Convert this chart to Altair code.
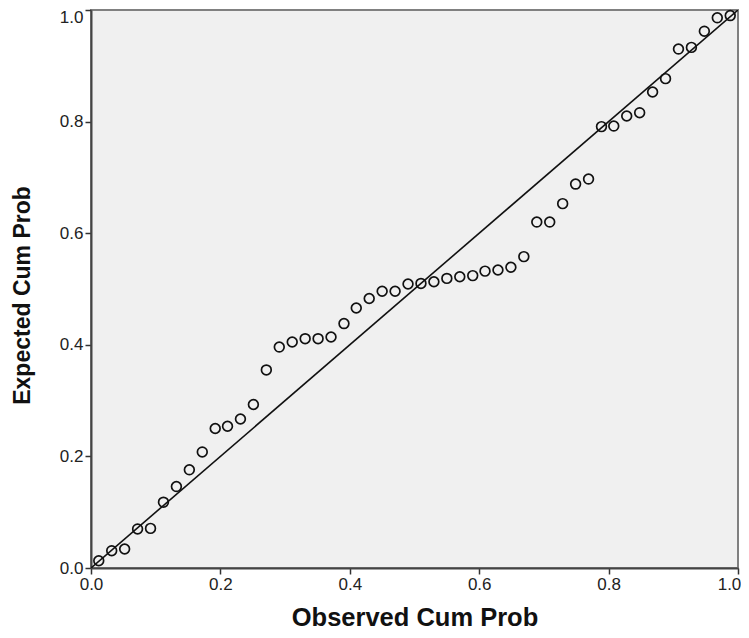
import altair as alt
import pandas as pd

# Observed cumulative probability (x) and expected cumulative probability (y)
observed = [0.012, 0.032, 0.052, 0.072, 0.092, 0.112, 0.132, 0.152, 0.172, 0.192,
            0.211, 0.231, 0.251, 0.271, 0.291, 0.311, 0.331, 0.351, 0.371, 0.391,
            0.410, 0.430, 0.450, 0.470, 0.490, 0.510, 0.530, 0.550, 0.570, 0.590,
            0.609, 0.629, 0.649, 0.669, 0.689, 0.709, 0.729, 0.749, 0.769, 0.789,
            0.808, 0.828, 0.848, 0.868, 0.888, 0.908, 0.928, 0.948, 0.968, 0.988]
expected = [0.013, 0.031, 0.034, 0.070, 0.071, 0.118, 0.146, 0.176, 0.208, 0.250,
            0.254, 0.267, 0.293, 0.355, 0.396, 0.405, 0.411, 0.411, 0.414, 0.438,
            0.466, 0.483, 0.496, 0.496, 0.509, 0.510, 0.513, 0.519, 0.522, 0.524,
            0.532, 0.534, 0.539, 0.558, 0.620, 0.620, 0.653, 0.688, 0.697, 0.791,
            0.792, 0.810, 0.816, 0.853, 0.877, 0.930, 0.933, 0.962, 0.986, 0.990]
diag_x = [0.0, 1.0]
diag_y = [0.0, 1.0]
ticks = [0.0, 0.2, 0.4, 0.6, 0.8, 1.0]

pts = pd.DataFrame({"obs": observed, "exp": expected})
diag = pd.DataFrame({"obs": diag_x, "exp": diag_y})

FONT = "Liberation Sans"

xscale = alt.Scale(domain=[0, 1], nice=False, zero=False)
yscale = alt.Scale(domain=[0, 1], nice=False, zero=False)

xaxis = alt.Axis(title="Observed Cum Prob", values=ticks, format=".1f", grid=False,
                 tickSize=6, tickColor="#333", tickWidth=1.5, domainColor="#444",
                 domainWidth=2, labelFont=FONT, labelFontSize=17, labelColor="#222",
                 labelPadding=2, labelFlush=False,
                 labelOffset={"condition": {"test": "datum.value == 1", "value": -9}, "value": 0},
                 titleFont=FONT, titleFontSize=25.5,
                 titleFontWeight="bold", titleColor="#111", titlePadding=13)
yaxis = alt.Axis(title="Expected Cum Prob", values=ticks, format=".1f", grid=False,
                 tickSize=6, tickColor="#333", tickWidth=1.5, domainColor="#444",
                 domainWidth=2, labelFont=FONT, labelFontSize=17, labelColor="#222",
                 labelPadding=2, labelFlush=False,
                 labelOffset={"condition": {"test": "datum.value == 1", "value": 7}, "value": 0},
                 titleFont=FONT, titleFontSize=23, titleFontWeight="bold",
                 titleColor="#111", titlePadding=25, titleY=285)

line = alt.Chart(diag).mark_line(color="#111", strokeWidth=1.6, clip=True).encode(
    x=alt.X("obs:Q", scale=xscale, axis=xaxis),
    y=alt.Y("exp:Q", scale=yscale, axis=yaxis),
)

points = alt.Chart(pts).mark_point(shape="circle", filled=False, color="#111",
                                    size=95, strokeWidth=1.7, opacity=1).encode(
    x=alt.X("obs:Q", scale=xscale),
    y=alt.Y("exp:Q", scale=yscale),
)

chart = (line + points).properties(
    width=647, height=558,
    autosize=alt.AutoSizeParams(type="none"),
    padding={"left": 83, "top": 2, "right": 3, "bottom": 62},
    background="white",
).configure_view(
    fill="#f0f0f0", stroke="#808080", strokeWidth=2
)

chart.save("out.html", embed_options={"renderer": "svg", "actions": False})
